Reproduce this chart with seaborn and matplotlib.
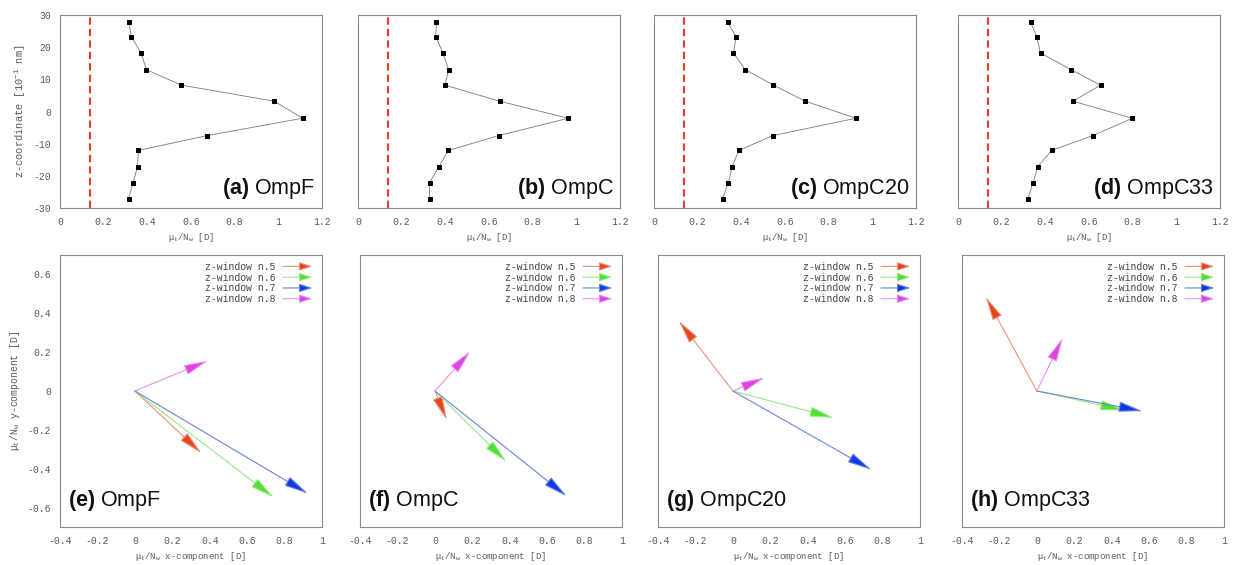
import matplotlib
matplotlib.use('Agg')
import matplotlib.pyplot as plt
import seaborn as sns
from matplotlib.patches import FancyArrowPatch
from matplotlib.legend_handler import HandlerPatch
from matplotlib.ticker import MultipleLocator, FuncFormatter

# values
z_centers = [27.7, 23.3, 18.2, 13.0, 8.2, 3.2, -2.1, -7.5, -12.1, -17.1, -22.1, -27.1]
ompf_mu = [0.315, 0.327, 0.371, 0.396, 0.556, 0.982, 1.111, 0.673, 0.359, 0.355, 0.335, 0.314]
ompc_mu = [0.359, 0.356, 0.389, 0.415, 0.398, 0.649, 0.963, 0.644, 0.414, 0.371, 0.328, 0.328]
ompc20_mu = [0.337, 0.376, 0.364, 0.418, 0.547, 0.693, 0.925, 0.543, 0.389, 0.358, 0.341, 0.314]
ompc33_mu = [0.333, 0.360, 0.378, 0.518, 0.653, 0.527, 0.799, 0.617, 0.429, 0.366, 0.344, 0.320]
bulk_mu = 0.137

windows = ['z-window n.5', 'z-window n.6', 'z-window n.7', 'z-window n.8']
ompf_x = [0.356, 0.742, 0.925, 0.391]
ompf_y = [-0.320, -0.548, -0.528, 0.156]
ompc_x = [0.064, 0.383, 0.705, 0.190]
ompc_y = [-0.149, -0.364, -0.542, 0.205]
ompc20_x = [-0.290, 0.539, 0.740, 0.170]
ompc20_y = [0.362, -0.138, -0.405, 0.069]
ompc33_x = [-0.273, 0.468, 0.566, 0.138]
ompc33_y = [0.485, -0.100, -0.104, 0.274]

top_labels = ['(a)', '(b)', '(c)', '(d)']
bottom_labels = ['(e)', '(f)', '(g)', '(h)']
proteins = ['OmpF', 'OmpC', 'OmpC20', 'OmpC33']
profiles = [ompf_mu, ompc_mu, ompc20_mu, ompc33_mu]
vectors = [(ompf_x, ompf_y), (ompc_x, ompc_y), (ompc20_x, ompc20_y), (ompc33_x, ompc33_y)]

head_colors = ['#e8441a', '#4fe030', '#1038e8', '#e040e8']
shaft_colors = ['#f0907a', '#98e888', '#6a84d8', '#e890e8']

sns.set_style('white')
plt.rcParams['font.family'] = ['Liberation Sans', 'DejaVu Sans']
plt.rcParams['mathtext.fontset'] = 'custom'
plt.rcParams['mathtext.rm'] = 'Liberation Mono'
plt.rcParams['mathtext.it'] = 'Liberation Mono'
plt.rcParams['mathtext.bf'] = 'Liberation Sans:bold'
plt.rcParams['axes.unicode_minus'] = False

mono = 'Liberation Mono'
grey = '#5a5a5a'
fmt = FuncFormatter(lambda v, p: f'{round(v, 6) + 0.0:g}')


class ArrowHandler(HandlerPatch):
    def create_artists(self, legend, orig_handle, xdescent, ydescent,
                       width, height, fontsize, trans):
        yc = height / 2 - ydescent
        arr = FancyArrowPatch((-xdescent, yc), (width - xdescent, yc),
                              arrowstyle='-|>,head_length=8,head_width=2.6',
                              mutation_scale=1, lw=0.8,
                              edgecolor=orig_handle.get_edgecolor(),
                              facecolor=orig_handle.get_facecolor())
        arr.set_transform(trans)
        return [arr]


def style_axes(ax):
    for s in ax.spines.values():
        s.set_color('#8a8a8a')
        s.set_linewidth(0.8)
    ax.tick_params(which='both', direction='out', color='#8a8a8a',
                   labelcolor=grey, labelsize=7, labelfontfamily=mono)
    ax.tick_params(which='major', length=3, width=0.7)
    ax.tick_params(which='minor', length=1.5, width=0.6)
    ax.xaxis.set_major_formatter(fmt)
    ax.yaxis.set_major_formatter(fmt)


W, H = 1238, 565
fig = plt.figure(figsize=(W / 100, H / 100), dpi=100)

top_left = [60, 358, 654, 958]
bot_left = [60, 360, 658, 962]
mu_label = r'$\mathrm{μ_t/N_w}$'

# top row: dipole profiles along z
for i in range(4):
    ax = fig.add_axes([top_left[i] / W, 1 - 208 / H, 262 / W, 193 / H])
    sns.lineplot(x=profiles[i], y=z_centers, sort=False, estimator=None,
                 color='#7a7a7a', lw=0.6, marker='s', markersize=3.4,
                 markerfacecolor='black', markeredgecolor='black', ax=ax)
    ax.axvline(bulk_mu, color='#e8392a', ls=(0, (3.5, 2)), lw=1.5)
    ax.set_xlim(0, 1.2)
    ax.set_ylim(-30, 30)
    ax.xaxis.set_major_locator(MultipleLocator(0.2))
    ax.xaxis.set_minor_locator(MultipleLocator(0.1))
    ax.yaxis.set_major_locator(MultipleLocator(10))
    ax.yaxis.set_minor_locator(MultipleLocator(5))
    style_axes(ax)
    ax.set_xlabel(mu_label + ' [D]', fontfamily=mono, fontsize=6.5,
                  color=grey, labelpad=3)
    if i == 0:
        ax.set_ylabel(r'z-coordinate [10$^{-1}$ nm]', fontfamily=mono,
                      fontsize=7.5, color=grey, labelpad=4)
    else:
        ax.set_ylabel('')
        ax.tick_params(axis='y', labelleft=False)
    ax.text(0.975, 0.035, r'$\mathbf{' + top_labels[i] + '}$ ' + proteins[i],
            transform=ax.transAxes, ha='right', va='bottom', fontsize=15.5,
            color='#111111')

# bottom row: xy components of the dipole for windows 5-8
for i in range(4):
    ax = fig.add_axes([bot_left[i] / W, 1 - 527 / H, 262 / W, 272 / H])
    vx, vy = vectors[i]
    handles = []
    for k in range(4):
        arr = FancyArrowPatch((0, 0), (vx[k], vy[k]),
                              arrowstyle='-|>,head_length=1.5,head_width=0.32',
                              mutation_scale=10, lw=0.8, shrinkA=0, shrinkB=0,
                              edgecolor=shaft_colors[k], facecolor=head_colors[k])
        ax.add_patch(arr)
        handles.append(FancyArrowPatch((0, 0), (1, 0), edgecolor=shaft_colors[k],
                                       facecolor=head_colors[k]))
    ax.set_xlim(-0.4, 1.0)
    ax.set_ylim(-0.7, 0.7)
    ax.xaxis.set_major_locator(MultipleLocator(0.2))
    ax.yaxis.set_major_locator(MultipleLocator(0.2))
    style_axes(ax)
    ax.set_xlabel(mu_label + ' x-component [D]', fontfamily=mono, fontsize=6.5,
                  color=grey, labelpad=3)
    if i == 0:
        ax.set_ylabel(mu_label + ' y-component [D]', fontfamily=mono,
                      fontsize=7, color=grey, labelpad=4)
    else:
        ax.tick_params(axis='y', labelleft=False)
    leg = ax.legend(handles, windows, loc='upper right', frameon=False,
                    markerfirst=False, handlelength=3.6, handletextpad=0.5,
                    labelspacing=0.08, borderaxespad=0.3,
                    prop={'family': mono, 'size': 7},
                    handler_map={FancyArrowPatch: ArrowHandler()})
    for t in leg.get_texts():
        t.set_color('#444444')
    ax.text(0.03, 0.05, r'$\mathbf{' + bottom_labels[i] + '}$ ' + proteins[i],
            transform=ax.transAxes, ha='left', va='bottom', fontsize=15.5,
            color='#111111')

fig.savefig('out.png', dpi=100)
